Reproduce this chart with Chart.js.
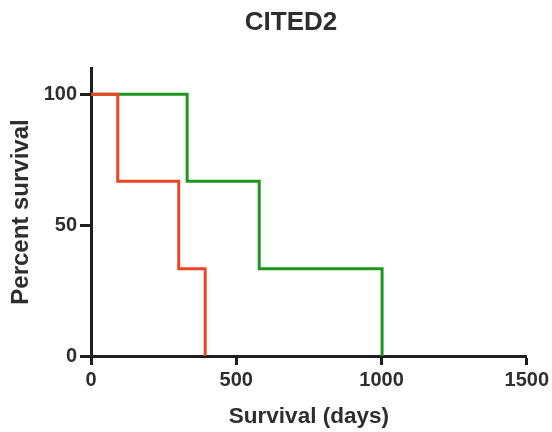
<!DOCTYPE html>
<html>
<head>
<meta charset="utf-8">
<script src="https://cdn.jsdelivr.net/npm/chart.js@4/dist/chart.umd.min.js"></script>
<style>
html,body{margin:0;padding:0;background:#fff;}
#wrap{width:552px;height:432px;position:relative;}
</style>
</head>
<body>
<div id="wrap"><canvas id="c" width="552" height="432"></canvas></div>
<script>
const chartTitle = "CITED2";
const xAxisTitle = "Survival (days)";
const yAxisTitle = "Percent survival";
const xTicks = [0, 500, 1000, 1500];
const yTicks = [0, 50, 100];

// Kaplan-Meier steps (days, percent survival)
const redDays = [0, 92, 302, 393];
const redSurvival = [100, 66.7, 33.3, 0];
const greenDays = [0, 331, 579, 1002];
const greenSurvival = [100, 66.7, 33.3, 0];

const toPts = (xs, ys) => xs.map((x, i) => ({x: x, y: ys[i]}));
const FONT = "'Liberation Sans', Arial, Helvetica, sans-serif";
const TXT = '#2e2e2e';
const AX = '#1e1e1e';

const titlePlugin = {
  id: 'offsetTitle',
  afterDraw(chart) {
    const ctx = chart.ctx;
    ctx.save();
    ctx.font = "bold 26px " + FONT;
    ctx.fillStyle = TXT;
    ctx.textAlign = 'center';
    ctx.textBaseline = 'middle';
    ctx.fillText(chartTitle, 291, 23);
    ctx.restore();
  }
};

new Chart(document.getElementById('c'), {
  type: 'line',
  data: {
    datasets: [
      {label: 'red', data: toPts(redDays, redSurvival), borderColor: '#ee4425', borderWidth: 3, stepped: true, pointRadius: 0, fill: false},
      {label: 'green', data: toPts(greenDays, greenSurvival), borderColor: '#1d961f', borderWidth: 3, stepped: true, pointRadius: 0, fill: false}
    ]
  },
  plugins: [titlePlugin],
  options: {
    responsive: false,
    animation: false,
    layout: {padding: {left: 0, right: 7, top: 68, bottom: 0}},
    plugins: {
      legend: {display: false},
      tooltip: {enabled: false},
      title: {display: false}
    },
    scales: {
      x: {
        type: 'linear', min: 0, max: 1500,
        afterBuildTicks: s => { s.ticks = xTicks.map(v => ({value: v})); },
        afterFit: s => { s.height = 76; },
        border: {display: true, width: 3, color: AX},
        grid: {display: true, drawOnChartArea: false, drawTicks: true, tickLength: 9, tickColor: AX, tickWidth: 3},
        ticks: {color: TXT, font: {family: FONT, size: 20, weight: 'bold'}, padding: 3, maxRotation: 0, callback: v => String(v)},
        title: {display: true, text: xAxisTitle, color: TXT, font: {family: FONT, size: 22.5, weight: 'bold'}, padding: {top: 4, bottom: 2}}
      },
      y: {
        type: 'linear', min: 0, max: 110,
        afterBuildTicks: s => { s.ticks = yTicks.map(v => ({value: v})); },
        afterFit: s => { s.width = 91; },
        border: {display: true, width: 3, color: AX},
        grid: {display: true, drawOnChartArea: false, drawTicks: true, tickLength: 11, tickColor: AX, tickWidth: 3},
        ticks: {color: TXT, font: {family: FONT, size: 20, weight: 'bold'}, padding: 3, callback: v => String(v)},
        title: {display: true, text: yAxisTitle, color: TXT, font: {family: FONT, size: 24, weight: 'bold'}, padding: {top: 7, bottom: 0}}
      }
    }
  }
});
</script>
</body>
</html>
